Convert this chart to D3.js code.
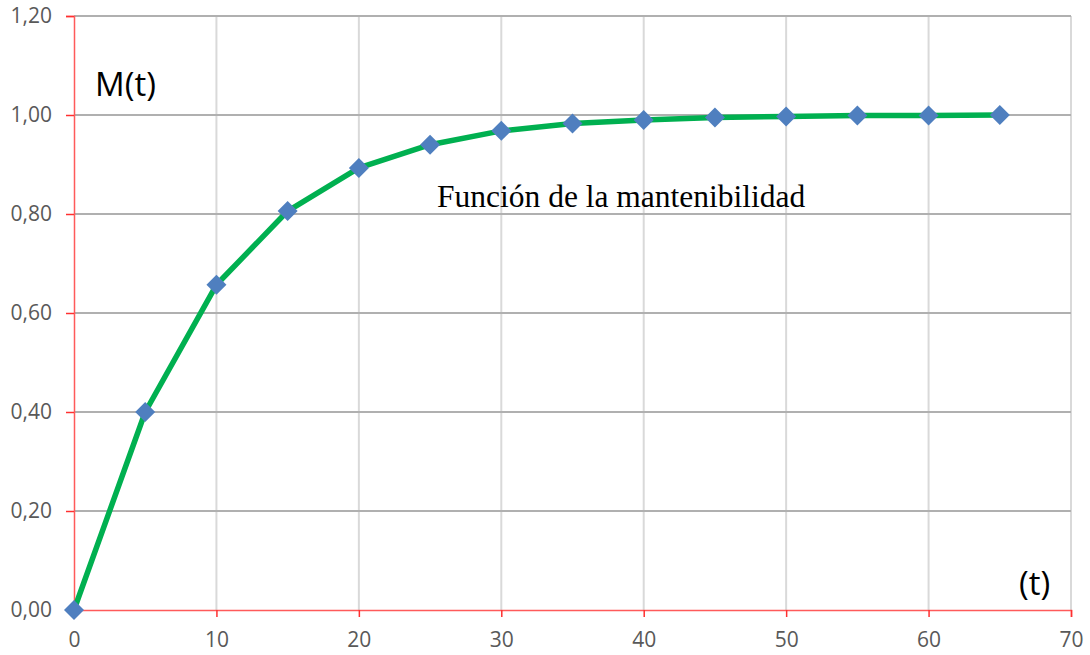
<!DOCTYPE html>
<html>
<head>
<meta charset="utf-8">
<script src="https://cdn.jsdelivr.net/npm/d3@7"></script>
<style>
  body { margin: 0; background: #fff; }
</style>
</head>
<body>
<div id="chart"></div>
<script>
// data
let tValues = [0, 5, 10, 15, 20, 25, 30, 35, 40, 45, 50, 55, 60, 65];
let mValues = [0, 0.40, 0.657, 0.806, 0.893, 0.940, 0.968, 0.983, 0.990, 0.995, 0.997, 0.999, 0.999, 1.000];
let xTicks = [0, 10, 20, 30, 40, 50, 60, 70];
let yTicks = [0, 0.2, 0.4, 0.6, 0.8, 1.0, 1.2];

let w = 1090;
let h = 655;
let m = {top: 16, right: 19, bottom: 45, left: 74};

let svg = d3.select("#chart")
    .append("svg")
    .attr("width", w)
    .attr("height", h);

let x = d3.scaleLinear().domain([0, 70]).range([m.left, w - m.right]);
let y = d3.scaleLinear().domain([0, 1.2]).range([h - m.bottom, m.top]);

let fmt = (d) => d3.format(".2f")(d).replace(".", ",");

// vertical gridlines
svg.append("g")
    .selectAll("line")
    .data(xTicks.filter((d) => d > 0))
    .enter()
    .append("line")
    .attr("x1", (d) => x(d)).attr("x2", (d) => x(d))
    .attr("y1", y(1.2)).attr("y2", y(0))
    .attr("stroke", "#d9d9d9")
    .attr("stroke-width", 2);

// horizontal gridlines
svg.append("g")
    .selectAll("line")
    .data(yTicks.filter((d) => d > 0))
    .enter()
    .append("line")
    .attr("x1", x(0)).attr("x2", x(70))
    .attr("y1", (d) => y(d)).attr("y2", (d) => y(d))
    .attr("stroke", "#b0b0b0")
    .attr("stroke-width", 2);

// y axis
let yAxis = svg.append("g")
    .attr("transform", `translate(${x(0)},0)`)
    .call(d3.axisLeft(y).tickValues(yTicks).tickFormat(fmt).tickSize(8).tickPadding(14));

// x axis
let xAxis = svg.append("g")
    .attr("transform", `translate(0,${y(0)})`)
    .call(d3.axisBottom(x).tickValues(xTicks).tickFormat(d3.format("d")).tickSize(7).tickPadding(15));

[yAxis, xAxis].forEach((a) => {
    a.select(".domain").attr("stroke", "#ff5a5a").attr("stroke-width", 1.5);
    a.selectAll(".tick line").attr("stroke", "#ff3030").attr("stroke-width", 1.5);
    a.selectAll(".tick text")
        .attr("fill", "#595959")
        .style("font-family", "'Open Sans', sans-serif")
        .style("font-size", "21px");
});

// curve: straight segments between points
let line = d3.line()
    .x((d, i) => x(tValues[i]))
    .y((d) => y(d));

svg.append("path")
    .datum(mValues)
    .attr("d", line)
    .attr("fill", "none")
    .attr("stroke", "#00b050")
    .attr("stroke-width", 5.5)
    .attr("stroke-linejoin", "round");

// diamond markers
svg.append("g")
    .selectAll("path")
    .data(mValues)
    .enter()
    .append("path")
    .attr("transform", (d, i) => `translate(${x(tValues[i])},${y(d)})`)
    .attr("d", "M0,-10L10,0L0,10L-10,0Z")
    .attr("fill", "#4f7fbf");

// labels
svg.append("text")
    .attr("x", 95).attr("y", 96)
    .style("font-family", "'Open Sans', sans-serif")
    .style("font-size", "33px")
    .text("M(t)");

svg.append("text")
    .attr("x", 1019).attr("y", 595)
    .style("font-family", "'Open Sans', sans-serif")
    .style("font-size", "33px")
    .text("(t)");

svg.append("text")
    .attr("x", 437).attr("y", 207)
    .style("font-family", "'Liberation Serif', serif")
    .style("font-size", "31.5px")
    .text("Función de la mantenibilidad");
</script>
</body>
</html>
